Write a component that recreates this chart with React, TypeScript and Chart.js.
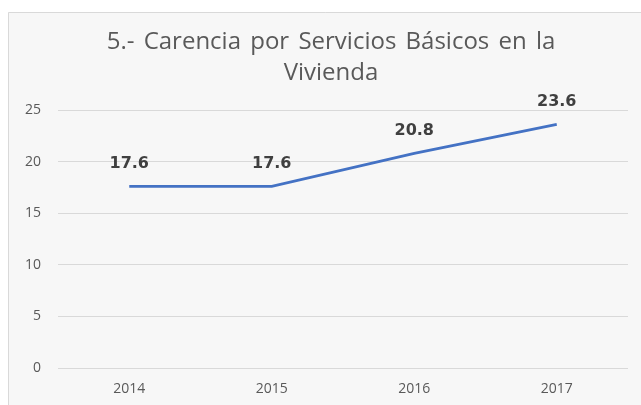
import React, { useEffect, useRef } from "react";
import { Chart, registerables } from "chart.js";

Chart.register(...registerables);

const categories = ["2014", "2015", "2016", "2017"];
const values = [17.6, 17.6, 20.8, 23.6];
const titleLines = ["5.- Carencia por Servicios Básicos en la", "Vivienda"];
const yTicks = { min: 0, max: 25, step: 5 };

const backgroundPlugin = {
  id: "cardBackground",
  beforeDraw(chart: any) {
    const { ctx, width, height } = chart;
    ctx.save();
    ctx.fillStyle = "#ffffff";
    ctx.fillRect(0, 0, width, height);
    ctx.fillStyle = "#f7f7f7";
    ctx.fillRect(8, 12, width, height);
    ctx.strokeStyle = "#d9d9d9";
    ctx.lineWidth = 1;
    ctx.beginPath();
    ctx.moveTo(8.5, height + 2);
    ctx.lineTo(8.5, 12.5);
    ctx.lineTo(width + 2, 12.5);
    ctx.stroke();
    ctx.restore();
  },
};

const titlePlugin = {
  id: "cardTitle",
  afterDraw(chart: any) {
    const { ctx } = chart;
    ctx.save();
    ctx.font = "24px 'Open Sans'";
    ctx.fillStyle = "#595959";
    ctx.textAlign = "center";
    ctx.textBaseline = "middle";
    try {
      (ctx as any).wordSpacing = "3px";
    } catch (e) {}
    titleLines.forEach((line, i) => {
      ctx.fillText(line, 331, 42 + i * 31);
    });
    ctx.restore();
  },
};

const labelPlugin = {
  id: "valueLabels",
  afterDatasetsDraw(chart: any) {
    const { ctx } = chart;
    const meta = chart.getDatasetMeta(0);
    ctx.save();
    ctx.font = "bold 16px 'DejaVu Sans'";
    ctx.fillStyle = "#404040";
    ctx.textAlign = "center";
    ctx.textBaseline = "middle";
    meta.data.forEach((pt: any, i: number) => {
      ctx.fillText(values[i].toFixed(1), pt.x, pt.y - 23);
    });
    ctx.restore();
  },
};

export default function App() {
  const ref = useRef<HTMLCanvasElement | null>(null);
  useEffect(() => {
    if (!ref.current) return;
    const chart = new Chart(ref.current, {
      type: "line",
      data: {
        labels: categories,
        datasets: [
          {
            data: values,
            borderColor: "#4472C4",
            borderWidth: 2.75,
            pointRadius: 0,
            pointHoverRadius: 0,
            fill: false,
            tension: 0,
          },
        ],
      },
      options: {
        responsive: false,
        animation: false,
        layout: { padding: { left: 0, right: 13, top: 110, bottom: 0 } },
        plugins: {
          legend: { display: false },
          tooltip: { enabled: false },
          title: { display: false },
        },
        scales: {
          x: {
            type: "category",
            offset: true,
            grid: { display: false, drawTicks: false },
            border: { display: false },
            ticks: {
              color: "#595959",
              font: { family: "'Open Sans'", size: 14 },
              padding: 13,
            },
            afterFit: (scale: any) => {
              scale.height = 37;
            },
          },
          y: {
            min: yTicks.min,
            max: yTicks.max,
            grid: { color: "#d9d9d9", drawTicks: false, lineWidth: 1 },
            border: { display: false },
            ticks: {
              stepSize: yTicks.step,
              color: "#595959",
              font: { family: "'Open Sans'", size: 14 },
              padding: 17,
            },
            afterFit: (scale: any) => {
              scale.width = 58;
            },
          },
        },
      },
      plugins: [backgroundPlugin, labelPlugin, titlePlugin],
    });
    return () => chart.destroy();
  }, []);
  return (
    <div style={{ position: "fixed", left: 0, top: 0, width: 641, height: 405 }}>
      <canvas ref={ref} width={641} height={405} style={{ display: "block" }} />
    </div>
  );
}
